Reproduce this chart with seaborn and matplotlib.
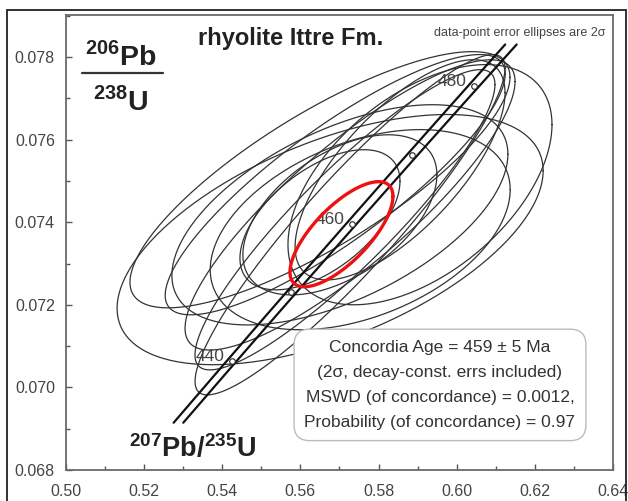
import numpy as np
import pandas as pd
import matplotlib
matplotlib.use('Agg')
import matplotlib.pyplot as plt
import seaborn as sns
from matplotlib.patches import Rectangle
from matplotlib.lines import Line2D
from matplotlib.ticker import MultipleLocator, FormatStrFormatter

# 2-sigma error ellipses: 207Pb/235U, 206Pb/238U, correlation
pb207_u235 = [0.5650, 0.5676, 0.5701, 0.5727, 0.5714, 0.5727, 0.5906, 0.5855, 0.5701, 0.5650, 0.5689, 0.5753]
err_207 = [0.04863, 0.05452, 0.04300, 0.03967, 0.03839, 0.04223, 0.03379, 0.02687, 0.02483, 0.02048, 0.04351, 0.03839]
pb206_u238 = [0.07503, 0.07358, 0.07418, 0.07394, 0.07406, 0.07442, 0.07491, 0.07527, 0.07418, 0.07406, 0.07491, 0.07382]
err_206 = [0.003103, 0.003030, 0.002667, 0.004121, 0.003636, 0.003515, 0.002909, 0.002667, 0.001939, 0.001697, 0.003152, 0.002424]
rho = [0.80, 0.55, 0.55, 0.92, 0.90, 0.85, 0.50, 0.70, 0.50, 0.55, 0.85, 0.40]

# concordia age ellipse (459 +/- 5 Ma)
conc_x, conc_sx = 0.5705, 0.01318
conc_y, conc_sy = 0.07371, 0.001273
conc_rho = 0.72

# concordia curve
lam238 = 1.55125e-4   # 1/Ma
lam235 = 9.8485e-4    # 1/Ma
lam235_err = 0.0019   # rel. band half-width
band_ages = [431, 486]
marker_ages = [440, 450, 460, 470, 480]
label_ages = [440, 460, 480]

box_lines = ['Concordia Age = 459 ± 5 Ma',
             '(2σ, decay-const. errs included)',
             'MSWD (of concordance) = 0.0012,',
             'Probability (of concordance) = 0.97']


def ellipse(cx, sx, cy, sy, r, n=240):
    t = np.linspace(0, 2 * np.pi, n)
    x = cx + sx * np.cos(t)
    y = cy + sy * (r * np.cos(t) + np.sqrt(1 - r * r) * np.sin(t))
    return x, y


sns.set_style('white')
plt.rcParams['font.family'] = ['Liberation Sans', 'DejaVu Sans']
plt.rcParams['mathtext.fontset'] = 'custom'
plt.rcParams['mathtext.rm'] = 'Liberation Sans'
plt.rcParams['mathtext.bf'] = 'Liberation Sans:bold'

fig = plt.figure(figsize=(6.28, 5.01), dpi=100)
ax = fig.add_axes([0.1051, 0.0619, 0.8710, 0.9082])

# data ellipses
rows = []
for i in range(len(pb207_u235)):
    ex, ey = ellipse(pb207_u235[i], err_207[i], pb206_u238[i], err_206[i], rho[i])
    rows.append(pd.DataFrame({'x': ex, 'y': ey, 'id': i}))
df = pd.concat(rows, ignore_index=True)
sns.lineplot(data=df, x='x', y='y', units='id', estimator=None, sort=False,
             color='#333333', lw=0.9, legend=False, ax=ax)

# concordia band
t = np.linspace(band_ages[0], band_ages[1], 200)
y_c = np.exp(lam238 * t) - 1
for s in (-1, 1):
    x_b = np.exp(lam235 * (1 + s * lam235_err) * t) - 1
    sns.lineplot(x=x_b, y=y_c, sort=False, color='#111111', lw=1.6, ax=ax)

ma = np.array(marker_ages)
ax.scatter(np.exp(lam235 * ma) - 1, np.exp(lam238 * ma) - 1, s=16, marker='o',
           facecolor='white', edgecolor='#222222', lw=0.8, zorder=4)
for a in label_ages:
    ax.annotate(str(a), (np.exp(lam235 * a) - 1, np.exp(lam238 * a) - 1),
                xytext=(-5, 3), textcoords='offset points', ha='right', va='center',
                fontsize=12.5, color='#444444', zorder=5)

# concordia age ellipse
rx, ry = ellipse(conc_x, conc_sx, conc_y, conc_sy, conc_rho)
ax.plot(rx, ry, color='#ee1111', lw=2.4, zorder=6)

ax.set_xlim(0.50, 0.64)
ax.set_ylim(0.068, 0.07902)
ax.xaxis.set_major_locator(MultipleLocator(0.02))
ax.xaxis.set_minor_locator(MultipleLocator(0.01))
ax.yaxis.set_major_locator(MultipleLocator(0.002))
ax.yaxis.set_minor_locator(MultipleLocator(0.001))
ax.xaxis.set_major_formatter(FormatStrFormatter('%.2f'))
ax.yaxis.set_major_formatter(FormatStrFormatter('%.3f'))
ax.tick_params(which='both', direction='in', bottom=True, left=True, top=False, right=False,
               colors='#555555', labelcolor='#444444', labelsize=11.5)
ax.tick_params(which='major', length=4, width=1)
ax.tick_params(which='minor', length=3, width=1)
ax.tick_params(axis='x', pad=10)
ax.tick_params(axis='y', pad=8)
for sp in ax.spines.values():
    sp.set_color('#6a6a6a')
    sp.set_linewidth(1.3)
ax.set_xlabel('')
ax.set_ylabel('')

# texts
ax.text(0.411, 0.934, 'rhyolite Ittre Fm.', transform=ax.transAxes, ha='center',
        va='baseline', fontsize=17, fontweight='bold', color='#222222')
ax.text(0.830, 0.960, 'data-point error ellipses are 2σ', transform=ax.transAxes,
        ha='center', va='center', fontsize=9, color='#444444')
ax.text(0.1005, 0.890, r'$^{\mathbf{206}}\mathbf{Pb}$', transform=ax.transAxes,
        ha='center', va='baseline', fontsize=20.5, color='#222222')
ax.add_line(Line2D([0.029, 0.177], [0.8725, 0.8725], transform=ax.transAxes,
                   color='#333333', lw=1.6))
ax.text(0.099, 0.791, r'$^{\mathbf{238}}\mathbf{U}$', transform=ax.transAxes,
        ha='center', va='baseline', fontsize=20.5, color='#222222')
ax.text(0.231, 0.0286, r'$^{\mathbf{207}}\mathbf{Pb/}^{\mathbf{235}}\mathbf{U}$',
        transform=ax.transAxes, ha='center', va='baseline', fontsize=19.5,
        color='#222222', zorder=7)
ax.text(0.6837, 0.187, '\n'.join(box_lines), transform=ax.transAxes, ha='center',
        va='center', fontsize=12.5, color='#333333', linespacing=1.85, zorder=8,
        bbox=dict(boxstyle='round,pad=0.6,rounding_size=0.9', fc='white',
                  ec='#bbbbbb', lw=1))

# outer frame
fig.add_artist(Rectangle((0.0111, -0.05), 0.9857, 1.03, transform=fig.transFigure,
                         fill=False, ec='#222222', lw=1.3))

fig.savefig('out.png', dpi=100)
